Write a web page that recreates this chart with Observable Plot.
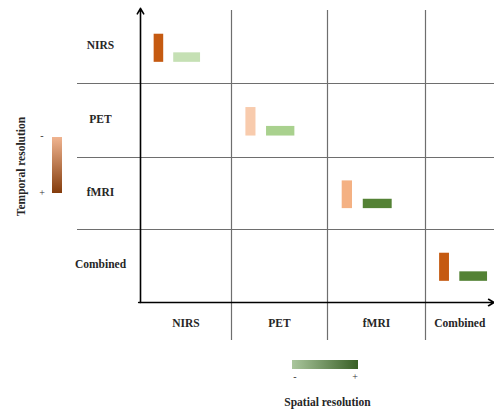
<!DOCTYPE html>
<html><head><meta charset="utf-8">
<script src="https://cdn.jsdelivr.net/npm/d3@7"></script>
<script src="https://cdn.jsdelivr.net/npm/@observablehq/plot@0.6"></script>
<style>body{margin:0;background:#fff;} svg{display:block}</style>
</head><body><div id="chart"></div>
<script>
// ---- data ----
const techniques = ["NIRS", "PET", "fMRI", "Combined"];
const temporalLevel = [3, 1, 2, 3];   // 1 = low (-) ... 3 = high (+)
const spatialLevel  = [1, 2, 3, 3];   // 1 = low (-) ... 3 = high (+)
const yTitle = "Temporal resolution";
const xTitle = "Spatial resolution";
const legendTicks = ["-", "+"];

// ---- styles / layout ----
const temporalColors = {1: "#F8CBAD", 2: "#F4B183", 3: "#C55A11"};
const spatialColors  = {1: "#C5E0B4", 2: "#A9D18E", 3: "#548235"};
const colEdges = [0, 1, 2, 3, 3.73];
const font = "'Liberation Serif', 'Times New Roman', serif";

const data = techniques.map((t, i) => ({t, i, temporal: temporalLevel[i], spatial: spatialLevel[i]}));
const labelStyle = {fontWeight: "bold", fontSize: 11.5, fill: "#262626", textAnchor: "middle"};

const plot = Plot.plot({
  width: 494, height: 411,
  marginLeft: 77, marginRight: 0, marginTop: 10, marginBottom: 71,
  style: {fontFamily: font, background: "#fff", overflow: "visible"},
  x: {type: "linear", domain: [0, 1, 2, 3, 4], range: [140, 231, 327, 425, 519], axis: null},
  y: {type: "linear", domain: [0, 1, 2, 3, 4], range: [10, 83, 157, 229, 302], axis: null},
  color: {type: "identity"},
  marks: [
    Plot.ruleX([1, 2, 3], {stroke: "#6e6e6e", strokeWidth: 1.2}),
    Plot.ruleY([1, 2, 3], {stroke: "#6e6e6e", strokeWidth: 1.2}),
    Plot.arrow([0], {x1: 0, y1: 4, x2: 0, y2: -0.03, stroke: "#000", strokeWidth: 1.6, headLength: 6}),
    Plot.arrow([0], {x1: -0.02, y1: 4, x2: colEdges[4], y2: 4, stroke: "#000", strokeWidth: 1.6, headLength: 6}),
    Plot.rect(data, {x1: d => d.i + 0.15, x2: d => d.i + 0.255, y1: d => d.i + 0.325, y2: d => d.i + 0.71,
                     fill: d => temporalColors[d.temporal]}),
    Plot.rect(data, {x1: d => d.i + 0.365, x2: d => d.i + 0.66, y1: d => d.i + 0.58, y2: d => d.i + 0.71,
                     fill: d => spatialColors[d.spatial]}),
    Plot.text(data, {x: d => (colEdges[d.i] + colEdges[d.i + 1]) / 2, frameAnchor: "bottom", dy: -14,
                     text: "t", ...labelStyle}),
    Plot.text(data, {y: d => d.i + 0.48, frameAnchor: "left", dx: 23, text: "t", ...labelStyle}),
    Plot.text([yTitle], {frameAnchor: "left", dx: -56, dy: -9, rotate: -90, text: d => d, ...labelStyle}),
    Plot.text([xTitle], {frameAnchor: "bottom", dx: 41.5, dy: 65, text: d => d, ...labelStyle})
  ]
});

// ---- gradient legends ----
const svg = d3.select(plot);
const defs = svg.append("defs");
const tg = defs.append("linearGradient").attr("id", "tgrad").attr("x1", 0).attr("y1", 0).attr("x2", 0).attr("y2", 1);
tg.append("stop").attr("offset", "0%").attr("stop-color", "#F0B490");
tg.append("stop").attr("offset", "100%").attr("stop-color", "#843C0C");
const sg = defs.append("linearGradient").attr("id", "sgrad").attr("x1", 0).attr("y1", 0).attr("x2", 1).attr("y2", 0);
sg.append("stop").attr("offset", "0%").attr("stop-color", "#AAC69D");
sg.append("stop").attr("offset", "100%").attr("stop-color", "#385F25");

const lg = svg.append("g").attr("font-family", font).attr("font-size", 10).attr("fill", "#333").attr("text-anchor", "middle");
lg.append("rect").attr("x", 52).attr("y", 137).attr("width", 10).attr("height", 56).attr("fill", "url(#tgrad)");
lg.append("text").attr("x", 42).attr("y", 139).text(legendTicks[0]);
lg.append("text").attr("x", 42).attr("y", 196).text(legendTicks[1]);
lg.append("rect").attr("x", 292).attr("y", 360).attr("width", 66).attr("height", 9).attr("fill", "url(#sgrad)");
lg.append("text").attr("x", 295).attr("y", 380).text(legendTicks[0]);
lg.append("text").attr("x", 355).attr("y", 380).text(legendTicks[1]);

document.getElementById("chart").appendChild(plot);
</script>
</body></html>
